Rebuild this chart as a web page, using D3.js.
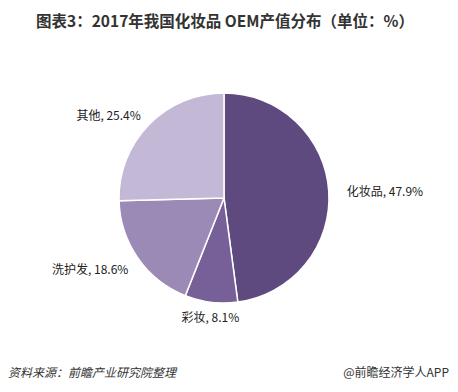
<!DOCTYPE html>
<html>
<head>
<meta charset="utf-8">
<script src="https://cdn.jsdelivr.net/npm/d3@7"></script>
<style>
  body { margin: 0; background: #fff; }
  text { font-family: "Noto Sans CJK SC", "Microsoft YaHei", sans-serif; }
</style>
</head>
<body>
<div id="chart"></div>
<script>
// slice names and shares, clockwise from 12 o'clock
var categories = ["化妆品", "彩妆", "洗护发", "其他"],
    values     = [47.9, 8.1, 18.6, 25.4],
    colors     = ["#5f4a7f", "#775f98", "#9c8ab6", "#c3b8d5"];

var width = 458, height = 392,
    cx = 224, cy = 198, radius = 105;

var svg = d3.select("#chart").append("svg")
  .attr("width", width)
  .attr("height", height);

svg.append("text")
  .attr("x", 225).attr("y", 27)
  .attr("text-anchor", "middle")
  .attr("font-size", 15.5)
  .attr("font-weight", "bold")
  .attr("fill", "#333")
  .text("图表3：2017年我国化妆品 OEM产值分布（单位：%）");

var data = categories.map(function(c, i){ return {name: c, value: values[i], color: colors[i]}; });

var pie = d3.pie().sort(null).value(function(d){ return d.value; });
var arc = d3.arc().innerRadius(0).outerRadius(radius);

var g = svg.append("g").attr("transform", "translate(" + cx + "," + cy + ")");

g.selectAll("path")
  .data(pie(data))
  .enter()
  .append("path")
    .attr("d", arc)
    .attr("fill", function(d){ return d.data.color; })
    .attr("stroke", "#fff")
    .attr("stroke-width", 1.5);

// label anchors (text-anchor / offset relative to slice centroid direction)
var labelArc = d3.arc().innerRadius(radius + 14).outerRadius(radius + 14);
var labelPos = {
  "化妆品": {dx: 4,   dy: 0,  anchor: "start"},
  "彩妆":   {dx: 1,   dy: 0,  anchor: "middle"},
  "洗护发": {dx: 2,   dy: 2,  anchor: "end"},
  "其他":   {dx: 2,   dy: 0,  anchor: "end"}
};

g.selectAll(".lbl")
  .data(pie(data))
  .enter()
  .append("text")
    .attr("class", "lbl")
    .attr("transform", function(d){
      var c = labelArc.centroid(d), p = labelPos[d.data.name];
      return "translate(" + (c[0] + p.dx) + "," + (c[1] + p.dy) + ")";
    })
    .attr("text-anchor", function(d){ return labelPos[d.data.name].anchor; })
    .attr("dominant-baseline", "central")
    .attr("font-size", 12)
    .attr("fill", "#222")
    .text(function(d){ return d.data.name + ", " + d.data.value.toFixed(1) + "%"; });

svg.append("text")
  .attr("x", 8).attr("y", 377)
  .attr("font-size", 12)
  .attr("font-style", "italic")
  .attr("fill", "#333")
  .text("资料来源：前瞻产业研究院整理");

svg.append("text")
  .attr("x", 449).attr("y", 377)
  .attr("text-anchor", "end")
  .attr("font-size", 12)
  .attr("fill", "#333")
  .text("@前瞻经济学人APP");
</script>
</body>
</html>
